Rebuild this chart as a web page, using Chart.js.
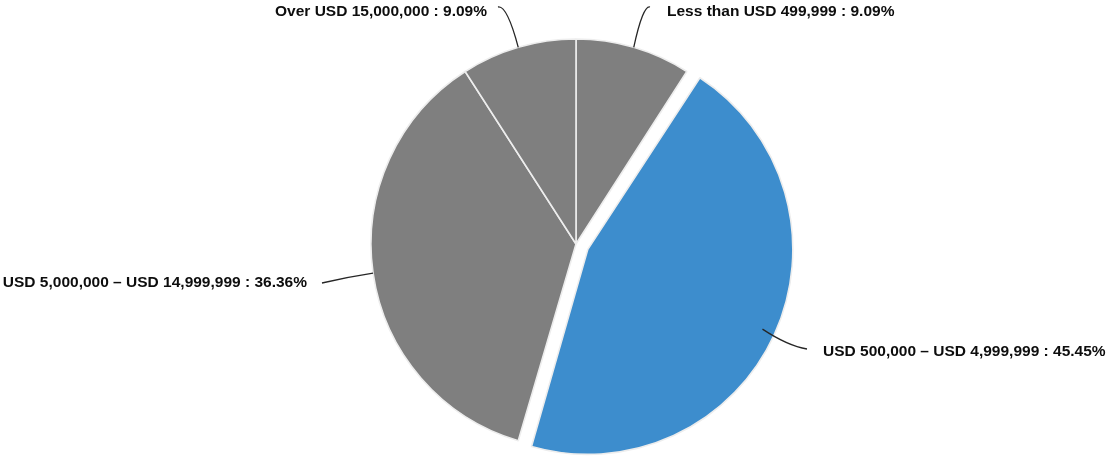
<!DOCTYPE html>
<html>
<head>
<meta charset="utf-8">
<script src="https://cdn.jsdelivr.net/npm/chart.js@4/dist/chart.umd.min.js"></script>
<style>
  html, body { margin: 0; padding: 0; background: #ffffff; }
  #wrap { width: 1109px; height: 456px; position: relative; }
</style>
</head>
<body>
<div id="wrap"><canvas id="c"></canvas></div>
<script>
// Revenue bands and their share of respondents (%)
const categories = [
  'Less than USD 499,999',
  'USD 500,000 \u2013 USD 4,999,999',
  'USD 5,000,000 \u2013 USD 14,999,999',
  'Over USD 15,000,000'
];
const shares = [9.09, 45.45, 36.36, 9.09];
const valueLabels = ['9.09%', '45.45%', '36.36%', '9.09%'];

const sliceColors = ['#7f7f7f', '#3d8dcd', '#7f7f7f', '#7f7f7f'];
// Chart.js moves an arc out by a quarter of its offset value
const sliceOffsets = [0, 52, 0, 0];

// Callout layout for each slice: where the text sits and how the leader bends
const callouts = [
  { tx: 667, ty: 12,  align: 'left',  ctrl: [643, 5],   end: [650, 7] },
  { tx: 823, ty: 352, align: 'left',  ctrl: [788, 346], end: [807, 349] },
  { tx: 307, ty: 283, align: 'right', ctrl: [348, 277], end: [322, 283] },
  { tx: 487, ty: 12,  align: 'right', ctrl: [507, 5],   end: [498, 7] }
];

// An exploded arc is also drawn with a larger radius by Chart.js;
// shrink it back so the pulled-out slice keeps the pie's radius.
const keepRadiusPlugin = {
  id: 'keepRadius',
  afterDatasetUpdate(chart, args) {
    const meta = chart.getDatasetMeta(args.index);
    const R = meta.controller.outerRadius;
    meta.data.forEach((arc, i) => {
      const o = (sliceOffsets[i] || 0) / 4;
      const fix = 1 - Math.sin(Math.min(Math.PI, arc.circumference || 0));
      arc.outerRadius = R - o * fix;
    });
  }
};

const calloutPlugin = {
  id: 'callouts',
  afterDatasetsDraw(chart) {
    const ctx = chart.ctx;
    const meta = chart.getDatasetMeta(0);
    const R = meta.controller.outerRadius;
    ctx.save();
    meta.data.forEach((arc, i) => {
      const c = callouts[i];
      const mid = (arc.startAngle + arc.endAngle) / 2;
      const sx = arc.x + R * Math.cos(mid);
      const sy = arc.y + R * Math.sin(mid);
      ctx.beginPath();
      ctx.moveTo(sx, sy);
      ctx.quadraticCurveTo(c.ctrl[0], c.ctrl[1], c.end[0], c.end[1]);
      ctx.strokeStyle = '#262626';
      ctx.lineWidth = 1.3;
      ctx.stroke();

      ctx.font = 'bold 15.5px "Liberation Sans", Arial, sans-serif';
      ctx.fillStyle = '#0d0d0d';
      ctx.textBaseline = 'middle';
      ctx.textAlign = c.align;
      ctx.fillText(categories[i] + ' : ' + valueLabels[i], c.tx, c.ty);
    });
    ctx.restore();
  }
};

new Chart(document.getElementById('c'), {
  type: 'pie',
  data: {
    labels: categories,
    datasets: [{
      data: shares,
      backgroundColor: sliceColors,
      borderColor: '#ededed',
      borderWidth: 1.6,
      offset: sliceOffsets,
      radius: 205
    }]
  },
  options: {
    responsive: true,
    maintainAspectRatio: false,
    animation: false,
    layout: { padding: { left: 43, right: 0, top: 32, bottom: 0 } },
    plugins: {
      legend: { display: false },
      tooltip: { enabled: false }
    }
  },
  plugins: [keepRadiusPlugin, calloutPlugin]
});
</script>
</body>
</html>
